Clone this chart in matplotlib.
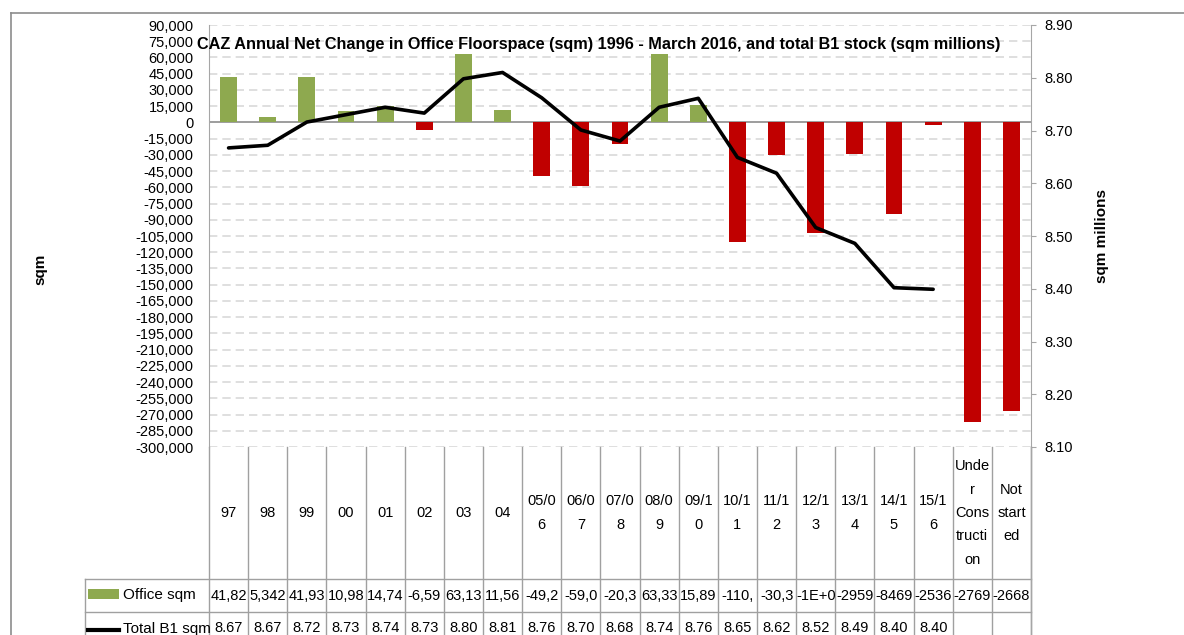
#!/usr/bin/env python3
"""CAZ office floorspace net change with B1 stock line and data table."""
import matplotlib
matplotlib.use('Agg')
import matplotlib.pyplot as plt
from matplotlib.lines import Line2D
from matplotlib.patches import Rectangle
from matplotlib.transforms import blended_transform_factory
import numpy as np

plt.rcParams['font.family'] = ['Liberation Sans Narrow', 'Liberation Sans', 'DejaVu Sans']

# ---- data ----
categories = ["97", "98", "99", "00", "01", "02", "03", "04", "05/0\n6", "06/0\n7",
              "07/0\n8", "08/0\n9", "09/1\n0", "10/1\n1", "11/1\n2", "12/1\n3",
              "13/1\n4", "14/1\n5", "15/1\n6", "Unde\nr\nCons\ntructi\non", "Not\nstart\ned"]
office_sqm = [41823, 5342, 41934, 10982, 14745, -6594, 63134, 11563, -49234, -59034,
              -20334, 63334, 15894, -110234, -30334, -102000, -29594, -84694, -2536,
              -276934, -266834]
office_text = ["41,82", "5,342", "41,93", "10,98", "14,74", "-6,59", "63,13", "11,56",
               "-49,2", "-59,0", "-20,3", "63,33", "15,89", "-110,", "-30,3", "-1E+0",
               "-2959", "-8469", "-2536", "-2769", "-2668"]
total_b1 = [8.667, 8.672, 8.716, 8.73, 8.744, 8.733, 8.798, 8.810, 8.762, 8.701,
            8.680, 8.744, 8.761, 8.649, 8.619, 8.516, 8.486, 8.402, 8.399]

W, H = 1184, 635
fig = plt.figure(figsize=(W / 100, H / 100), dpi=100)
fig.patch.set_facecolor('white')

# plot area in pixels
L, R, T, B = 209, 1031, 25, 447
ax = fig.add_axes([L / W, (H - B) / H, (R - L) / W, (B - T) / H])
n = len(categories)
x = np.arange(n)

GREEN = '#8EA94F'
RED = '#C00000'
GRID = '#D9D9D9'
EDGE = '#A6A6A6'

colors = [GREEN if v >= 0 else RED for v in office_sqm]
ax.bar(x, office_sqm, width=0.43, color=colors, zorder=3)
ax.axhline(0, color='#8C8C8C', lw=1.2, zorder=2)
ax.set_xlim(-0.5, n - 0.5)
ax.set_ylim(-300000, 90000)
yt = np.arange(-300000, 90001, 15000)
ax.set_yticks(yt)
ax.set_yticklabels([f"{v:,}" for v in yt], fontsize=10.5)
ax.tick_params(axis='y', length=0, pad=11)
ax.set_xticks([])
for v in yt:
    if v != 0:
        ax.axhline(v, color=GRID, lw=1.2, ls=(0, (5, 3)), zorder=1)
for s in ['top', 'bottom']:
    ax.spines[s].set_visible(False)
ax.spines['left'].set_color(EDGE)
ax.spines['right'].set_visible(False)
ax.set_ylabel("sqm", fontsize=11, fontweight='bold', labelpad=0)
ax.yaxis.set_label_coords(-162 / (R - L), 0.42)

ax2 = ax.twinx()
ax2.plot(x[:len(total_b1)], total_b1, color='black', lw=2.6, zorder=4,
         solid_capstyle='round', solid_joinstyle='round')
ax2.set_ylim(8.10, 8.90)
rt = np.round(np.arange(8.10, 8.901, 0.10), 2)
ax2.set_yticks(rt)
ax2.set_yticklabels([f"{v:.2f}" for v in rt], fontsize=10.5)
ax2.tick_params(axis='y', length=3.5, color=EDGE, pad=6)
for s in ['top', 'bottom', 'left']:
    ax2.spines[s].set_visible(False)
ax2.spines['right'].set_color(EDGE)
ax2.set_ylabel("sqm millions", fontsize=11, fontweight='bold')
ax2.yaxis.set_label_coords(1 + 64 / (R - L), 0.5)

fig.text(599 / W, 1 - 44 / H,
         "CAZ Annual Net Change in Office Floorspace (sqm) 1996 - March 2016, and total B1 stock (sqm millions)",
         ha='center', va='center', fontsize=11.7, fontweight='bold')

# ---- data table below the plot ----
def fy(py):
    return 1 - py / H

def fx(px):
    return px / W

tr = blended_transform_factory(ax.transData, fig.transFigure)
TBL = '#A0A0A0'
ROW1, ROW2, ROW3 = 579, 612, 645
for i in range(n + 1):
    fig.add_artist(Line2D([i - 0.5, i - 0.5], [fy(B), fy(H + 5)], transform=tr,
                          color=TBL, lw=1, clip_on=False))
for py in (ROW1, ROW2):
    fig.add_artist(Line2D([fx(85), fx(R)], [fy(py), fy(py)], color=TBL, lw=1))
fig.add_artist(Line2D([fx(85), fx(85)], [fy(ROW1), fy(H + 5)], color=TBL, lw=1))
# right spine continues through the table
fig.add_artist(Line2D([fx(R), fx(R)], [fy(B), fy(H + 5)], color=EDGE, lw=1))

for i, lab in enumerate(categories):
    fig.text(i, fy((B + ROW1) / 2), lab, transform=tr, ha='center', va='center',
             fontsize=10.5, linespacing=1.85)
    fig.text(i, fy((ROW1 + ROW2) / 2), office_text[i], transform=tr,
             ha='center', va='center', fontsize=10.5)
    if i < len(total_b1):
        fig.text(i, fy((ROW2 + ROW3) / 2), f"{total_b1[i]:.2f}", transform=tr,
                 ha='center', va='center', fontsize=10.5)

# legend keys in row headers
fig.add_artist(Rectangle((fx(88), fy(599)), fx(119) - fx(88), fy(589) - fy(599),
                         facecolor=GREEN, edgecolor='none'))
fig.text(fx(123), fy((ROW1 + ROW2) / 2), "Office sqm", ha='left', va='center', fontsize=11)
fig.add_artist(Line2D([fx(88), fx(119)], [fy(630), fy(630)], color='black', lw=3))
fig.text(fx(123), fy((ROW2 + ROW3) / 2), "Total B1 sqm", ha='left', va='center', fontsize=11)

# outer chart frame
fig.add_artist(Line2D([fx(11), fx(11)], [fy(13), fy(H + 5)], color='#8C8C8C', lw=1.2))
fig.add_artist(Line2D([fx(11), fx(W + 5)], [fy(13), fy(13)], color='#8C8C8C', lw=1.2))

fig.savefig("out.png", dpi=100)
